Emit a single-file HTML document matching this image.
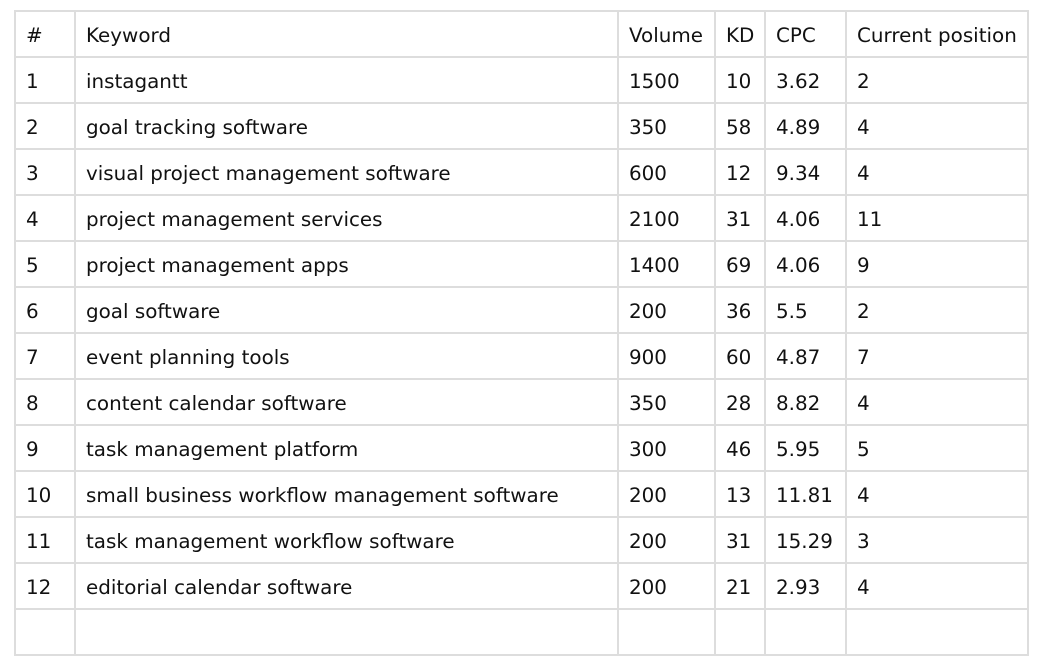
<!DOCTYPE html>
<html><head><meta charset="utf-8"><style>
html,body{margin:0;padding:0;background:#fff;width:1046px;height:618px;overflow:hidden}
table{position:absolute;left:14px;top:10px;border-collapse:collapse;table-layout:fixed;width:1015px;font-family:"DejaVu Sans",Verdana,sans-serif;font-size:19.9px;color:#111}
td{border:2px solid #ddd;height:41px;padding:3px 0 0 10px;white-space:nowrap;overflow:hidden;vertical-align:middle;line-height:20px}
</style></head><body>
<table>
<colgroup><col style="width:60px"><col style="width:543px"><col style="width:97px"><col style="width:50px"><col style="width:81px"><col style="width:182px"></colgroup>
<tr><td>#</td><td>Keyword</td><td>Volume</td><td>KD</td><td>CPC</td><td>Current position</td></tr>
<tr><td>1</td><td>instagantt</td><td>1500</td><td>10</td><td>3.62</td><td>2</td></tr>
<tr><td>2</td><td>goal tracking software</td><td>350</td><td>58</td><td>4.89</td><td>4</td></tr>
<tr><td>3</td><td>visual project management software</td><td>600</td><td>12</td><td>9.34</td><td>4</td></tr>
<tr><td>4</td><td>project management services</td><td>2100</td><td>31</td><td>4.06</td><td>11</td></tr>
<tr><td>5</td><td>project management apps</td><td>1400</td><td>69</td><td>4.06</td><td>9</td></tr>
<tr><td>6</td><td>goal software</td><td>200</td><td>36</td><td>5.5</td><td>2</td></tr>
<tr><td>7</td><td>event planning tools</td><td>900</td><td>60</td><td>4.87</td><td>7</td></tr>
<tr><td>8</td><td>content calendar software</td><td>350</td><td>28</td><td>8.82</td><td>4</td></tr>
<tr><td>9</td><td>task management platform</td><td>300</td><td>46</td><td>5.95</td><td>5</td></tr>
<tr><td>10</td><td>small business workflow management software</td><td>200</td><td>13</td><td>11.81</td><td>4</td></tr>
<tr><td>11</td><td>task management workflow software</td><td>200</td><td>31</td><td>15.29</td><td>3</td></tr>
<tr><td>12</td><td>editorial calendar software</td><td>200</td><td>21</td><td>2.93</td><td>4</td></tr>
<tr><td></td><td></td><td></td><td></td><td></td><td></td></tr>
</table>
</body></html>
